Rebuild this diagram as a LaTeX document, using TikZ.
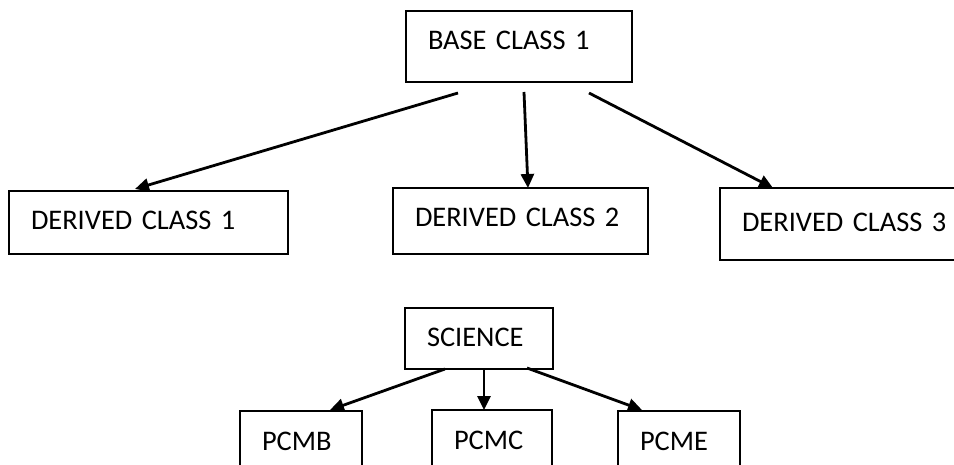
\documentclass[tikz,border=0pt]{standalone}
\usepackage{fontspec}
\setmainfont[WordSpace=0.85]{Carlito}
\usetikzlibrary{arrows.meta}
\newcommand{\boxfont}{\fontsize{28.4}{34}\selectfont}
\tikzset{
  box/.style={draw, line width=2.2pt, anchor=north west, outer sep=0pt,
    inner xsep=22pt, inner ysep=0pt, align=left, font=\boxfont},
  arr/.style={line width=2.8pt, -{Triangle[length=14pt,width=13pt]}},
}
\begin{document}
\begin{tikzpicture}[x=1pt,y=-1pt]
\useasboundingbox (0,0) rectangle (954,465);
\fill[white] (0,0) rectangle (954,465);
\clip (0,0) rectangle (954,465);
% top hierarchy
\node[box, text width=182pt, text height=39pt, text depth=32pt] (base) at (406,11) {BASE CLASS 1};
\node[box, text width=235pt, text height=39pt, text depth=24pt] (d1) at (9,191) {DERIVED CLASS 1};
\node[box, text width=211pt, text height=39pt, text depth=27pt] (d2) at (393,188) {DERIVED CLASS 2};
\node[box, text width=216pt, text height=44pt, text depth=28pt] (d3) at (720,188) {DERIVED CLASS 3};
% bottom hierarchy
\node[box, text width=104pt, text height=39pt, text depth=22pt] (sci) at (405,308) {SCIENCE};
\node[box, text width=78pt, text height=39pt, text depth=40pt] (pcmb) at (240,411) {PCMB};
\node[box, text width=76pt, text height=39pt, text depth=40pt] (pcmc) at (432,410) {PCMC};
\node[box, text width=78pt, text height=39pt, text depth=40pt] (pcme) at (618,411) {PCME};
% connectors
\draw[arr] ([shift={(52,11)}]base.south west) -- ([shift={(126,-2)}]d1.north west);
\draw[arr] ([shift={(118,10)}]base.south west) -- ([shift={(135,0)}]d2.north west);
\draw[arr] ([shift={(183,11)}]base.south west) -- ([shift={(53,0)}]d3.north west);
\draw[arr] ([shift={(40,0)}]sci.south west) -- ([shift={(90,-1)}]pcmb.north west);
\draw[arr] ([shift={(79,0)}]sci.south west) -- ([shift={(52,0)}]pcmc.north west);
\draw[arr] ([shift={(122,-1)}]sci.south west) -- ([shift={(24,-1)}]pcme.north west);
\end{tikzpicture}
\end{document}
